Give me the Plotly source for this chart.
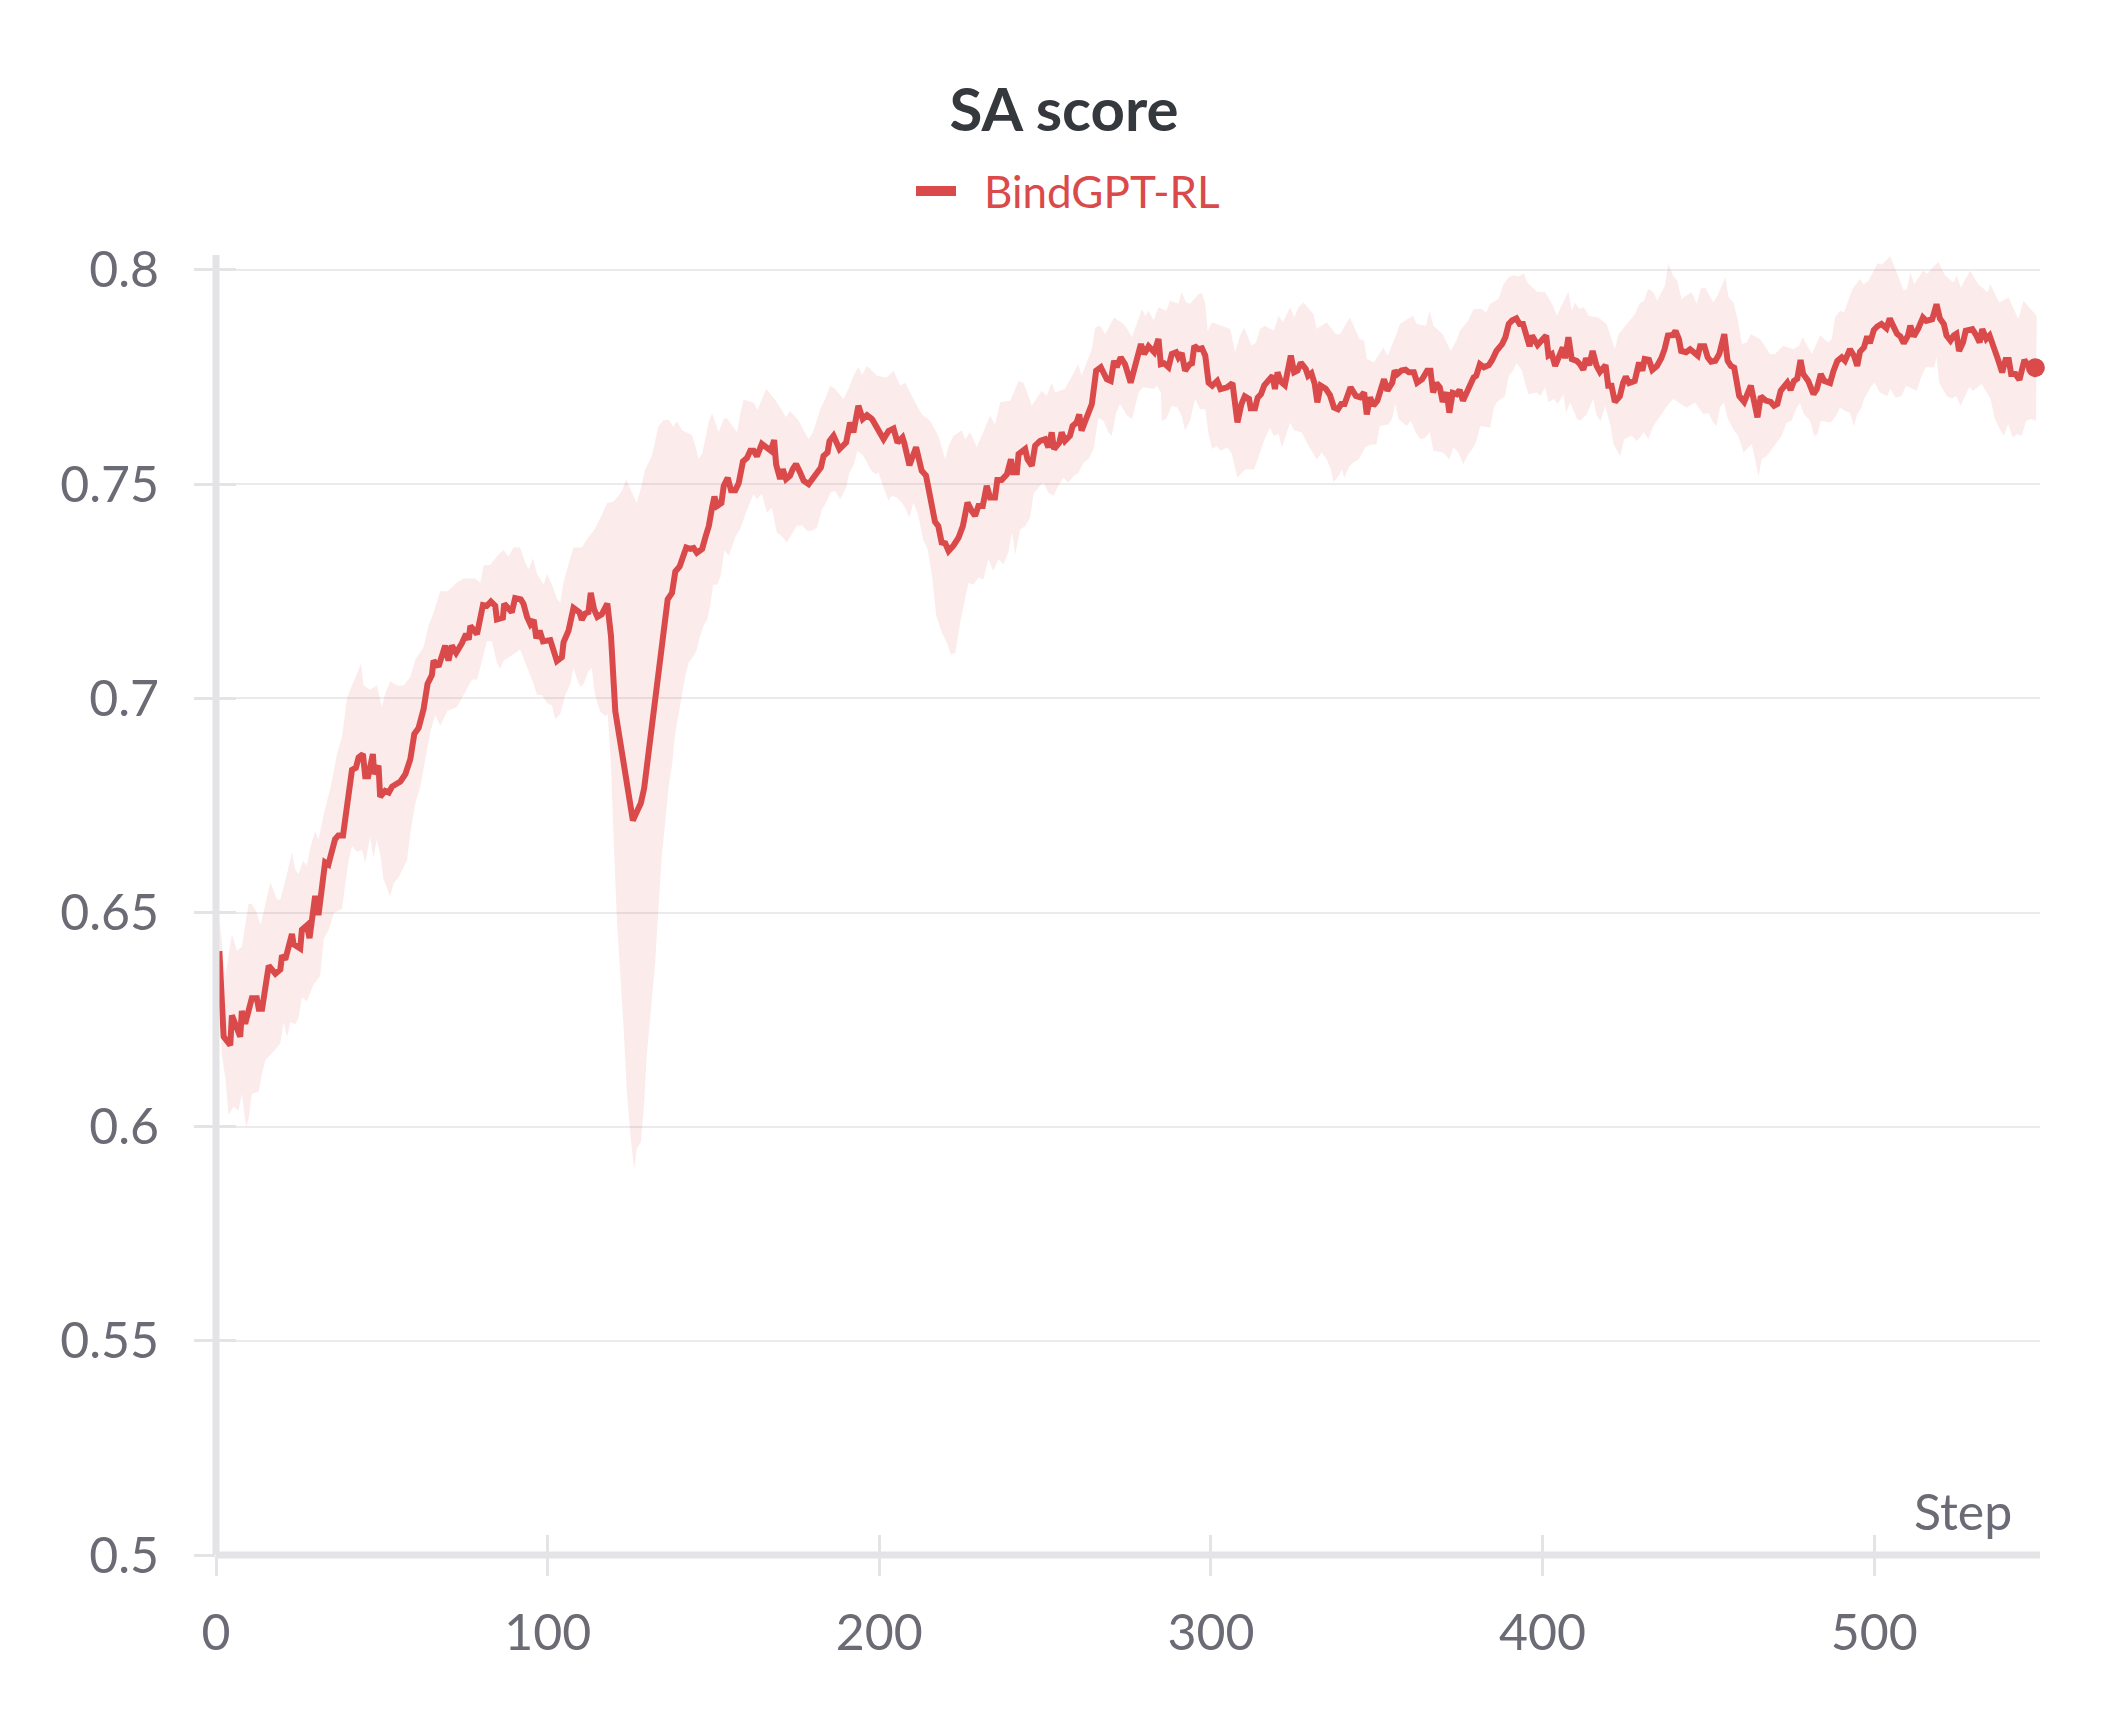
import plotly.graph_objects as go

# ---------------- data ----------------
title_text = "SA score"
series_name = "BindGPT-RL"
x_label = "Step"
x_tick_values = [0, 100, 200, 300, 400, 500]
x_tick_labels = ["0", "100", "200", "300", "400", "500"]
y_tick_values = [0.5, 0.55, 0.6, 0.65, 0.7, 0.75, 0.8]
y_tick_labels = ["0.5", "0.55", "0.6", "0.65", "0.7", "0.75", "0.8"]

mean_steps = [
    1.0, 2.3, 4.3, 4.8, 7.3, 7.8, 8.8, 10.8, 12.3, 12.9, 13.9, 15.9, 17.9, 19.4, 19.9, 20.9, 22.9, 23.4, 25.4, 25.9,
    27.4, 28.2, 29.9, 30.9, 32.9, 33.9, 35.9, 36.9, 38.3, 39.5, 41.0, 42.2, 43.0, 44.3, 45.0, 45.9, 47.3, 47.7, 49.0, 49.5,
    51.0, 52.1, 53.1, 55.6, 57.1, 58.6, 59.8, 61.1, 62.6, 63.8, 65.1, 65.6, 67.1, 69.1, 70.1, 71.1, 72.4, 74.1, 75.4, 76.2,
    76.7, 78.7, 80.5, 81.7, 82.9, 84.2, 84.7, 86.5, 86.9, 89.2, 90.2, 91.9, 92.7, 93.8, 94.8, 95.8, 96.6, 97.6, 98.6, 100.8,
    101.8, 102.8, 104.3, 104.8, 106.3, 107.8, 109.6, 110.3, 111.3, 112.3, 113.0, 114.0, 115.0, 116.3, 118.0, 119.1, 120.4, 121.9, 123.1, 124.4,
    125.7, 126.9, 128.1, 129.1, 130.3, 131.4, 132.7, 133.7, 134.8, 136.2, 137.5, 138.5, 139.8, 141.0, 141.8, 143.0, 144.0, 145.0, 146.6, 147.6,
    148.6, 149.6, 150.3, 151.1, 152.4, 153.1, 154.3, 155.3, 156.6, 157.6, 158.9, 160.1, 161.1, 162.1, 163.1, 164.6, 166.1, 167.3, 168.3, 168.9,
    170.1, 170.9, 171.9, 173.1, 173.9, 174.9, 175.9, 177.2, 178.7, 180.0, 181.2, 182.4, 183.2, 184.4, 185.0, 186.2, 188.0, 190.0, 191.2, 192.2,
    193.7, 195.0, 196.3, 197.8, 199.3, 201.3, 202.8, 204.3, 205.5, 207.0, 207.5, 209.1, 211.1, 212.8, 214.1, 215.5, 216.8, 217.8, 218.8, 219.9,
    220.9, 222.4, 223.9, 225.2, 226.6, 227.9, 228.9, 229.9, 231.2, 232.4, 233.4, 234.9, 235.6, 236.9, 238.5, 239.7, 240.3, 241.5, 242.0, 244.0,
    244.7, 246.0, 247.0, 248.5, 250.0, 251.0, 252.0, 252.7, 254.3, 255.0, 256.0, 257.5, 258.3, 259.5, 260.3, 261.0, 262.6, 264.1, 265.4, 266.8,
    268.6, 269.8, 270.8, 271.6, 272.8, 274.1, 275.8, 277.2, 278.9, 279.9, 281.2, 282.9, 284.2, 284.9, 285.9, 287.2, 288.2, 289.5, 290.2, 291.2,
    292.2, 293.6, 294.3, 295.0, 296.3, 297.3, 298.3, 299.3, 300.4, 301.9, 302.9, 304.9, 306.5, 308.0, 309.2, 310.2, 311.5, 312.0, 313.3, 314.1,
    315.1, 316.1, 317.3, 318.6, 319.3, 320.1, 321.1, 322.3, 324.1, 325.1, 326.1, 327.1, 328.6, 329.3, 330.3, 331.3, 332.1, 333.1, 334.6, 335.9,
    337.1, 338.3, 339.3, 340.3, 342.1, 343.7, 345.0, 346.2, 347.0, 348.0, 349.0, 350.2, 352.2, 353.2, 354.7, 355.4, 356.2, 357.4, 358.7, 359.7,
    361.2, 362.2, 363.7, 365.2, 366.2, 367.0, 368.0, 369.0, 369.9, 371.1, 371.9, 372.9, 374.1, 375.0, 376.0, 377.2, 378.2, 379.2, 380.0, 381.1,
    382.3, 383.8, 384.8, 386.1, 387.8, 388.8, 389.8, 390.8, 392.1, 393.1, 394.1, 395.1, 396.1, 396.8, 398.5, 400.1, 401.1, 401.8, 402.8, 403.8,
    405.1, 406.1, 406.8, 407.8, 408.8, 410.3, 411.3, 412.3, 413.1, 414.1, 415.1, 416.3, 417.3, 419.0, 419.8, 420.8, 421.8, 423.3, 424.3, 425.1,
    426.1, 427.8, 429.1, 430.1, 430.8, 432.1, 433.1, 434.5, 435.8, 436.8, 437.8, 439.3, 440.1, 441.1, 441.8, 443.3, 444.5, 445.8, 446.8, 447.5,
    448.8, 449.8, 450.8, 452.1, 453.3, 454.8, 455.8, 456.8, 457.8, 459.3, 460.8, 462.8, 463.8, 464.8, 465.8, 467.3, 468.8, 469.8, 470.8, 471.8,
    473.8, 474.8, 475.8, 476.8, 477.8, 478.6, 480.1, 481.7, 482.7, 483.9, 484.9, 486.7, 487.7, 488.9, 490.2, 491.2, 492.7, 493.9, 494.9, 495.7,
    496.9, 497.9, 498.7, 499.9, 500.9, 502.2, 503.7, 504.7, 505.7, 506.9, 507.9, 508.9, 510.2, 510.9, 511.9, 513.2, 514.7, 515.7, 517.5, 518.8,
    519.8, 521.0, 521.8, 523.0, 524.0, 524.8, 525.6, 526.8, 527.6, 529.6, 530.8, 531.8, 532.6, 533.8, 534.8, 536.0, 537.3, 538.6, 539.6, 540.6,
    541.3, 542.6, 543.8, 545.3, 546.3, 548.6,
]
mean_values = [
    0.641, 0.621, 0.619, 0.626, 0.621, 0.627, 0.624, 0.630, 0.630, 0.6275, 0.6275, 0.6376, 0.6357, 0.6367, 0.640, 0.639, 0.645, 0.6426, 0.6416, 0.646,
    0.647, 0.644, 0.6539, 0.6494, 0.6617, 0.6612, 0.6671, 0.668, 0.668, 0.6745, 0.6833, 0.6838, 0.6862, 0.687, 0.6818, 0.6818, 0.687, 0.6823, 0.6843, 0.677,
    0.6784, 0.678, 0.6794, 0.6806, 0.6823, 0.6858, 0.6917, 0.6931, 0.6975, 0.7034, 0.7054, 0.7088, 0.7074, 0.7123, 0.7088, 0.7123, 0.7106, 0.7128, 0.715, 0.7137,
    0.7169, 0.715, 0.7218, 0.7216, 0.7226, 0.7216, 0.7184, 0.7188, 0.7221, 0.7201, 0.7234, 0.7231, 0.7221, 0.719, 0.7173, 0.7183, 0.714, 0.7158, 0.7133, 0.7136,
    0.7108, 0.7087, 0.7096, 0.7131, 0.7158, 0.7211, 0.7201, 0.7183, 0.7198, 0.7201, 0.7246, 0.7208, 0.719, 0.7196, 0.7221, 0.7146, 0.697, 0.6895, 0.684, 0.676,
    0.6715, 0.6735, 0.6755, 0.679, 0.6865, 0.693, 0.6995, 0.7083, 0.7146, 0.7231, 0.7246, 0.7296, 0.7308, 0.7331, 0.7352, 0.7349, 0.7351, 0.734, 0.7349, 0.7377,
    0.7402, 0.7446, 0.7471, 0.7449, 0.7456, 0.7496, 0.7515, 0.7486, 0.7486, 0.7502, 0.7553, 0.7561, 0.7578, 0.7578, 0.7565, 0.7594, 0.7584, 0.7578, 0.7603, 0.7546,
    0.7512, 0.7535, 0.7512, 0.752, 0.7535, 0.7547, 0.7531, 0.7508, 0.75, 0.7515, 0.7531, 0.7539, 0.7566, 0.7574, 0.7601, 0.7613, 0.7582, 0.7597, 0.7644, 0.7621,
    0.7683, 0.7652, 0.7661, 0.7652, 0.7632, 0.7605, 0.7624, 0.763, 0.7597, 0.7609, 0.7597, 0.7544, 0.7586, 0.7531, 0.752, 0.7469, 0.7412, 0.7402, 0.7364, 0.7362,
    0.7344, 0.7357, 0.7375, 0.7402, 0.7457, 0.7437, 0.7426, 0.7449, 0.7449, 0.7496, 0.7469, 0.7469, 0.751, 0.751, 0.7523, 0.7558, 0.7528, 0.7528, 0.757, 0.7582,
    0.7558, 0.7543, 0.759, 0.7601, 0.7605, 0.7586, 0.7621, 0.7582, 0.7597, 0.7621, 0.7601, 0.7613, 0.7636, 0.7644, 0.7663, 0.7625, 0.766, 0.7687, 0.7765, 0.7773,
    0.7745, 0.7741, 0.7788, 0.7773, 0.7796, 0.778, 0.7737, 0.7784, 0.7827, 0.7804, 0.7822, 0.7808, 0.7839, 0.778, 0.7782, 0.7773, 0.7804, 0.7808, 0.7796, 0.7806,
    0.7765, 0.778, 0.7782, 0.7823, 0.7815, 0.7817, 0.78, 0.7737, 0.773, 0.7741, 0.7722, 0.7726, 0.7736, 0.7644, 0.7687, 0.7705, 0.7699, 0.7677, 0.7677, 0.7702,
    0.771, 0.7731, 0.7741, 0.7753, 0.7722, 0.7761, 0.7739, 0.7731, 0.78, 0.7761, 0.7765, 0.7784, 0.7769, 0.7753, 0.7759, 0.7734, 0.7691, 0.773, 0.7723, 0.7708,
    0.7679, 0.7675, 0.7687, 0.7687, 0.7726, 0.7706, 0.7703, 0.7714, 0.7663, 0.7703, 0.7683, 0.7695, 0.7745, 0.7718, 0.7737, 0.7765, 0.7757, 0.7765, 0.7767, 0.7761,
    0.7761, 0.7737, 0.7745, 0.7765, 0.7765, 0.7714, 0.7736, 0.7726, 0.7692, 0.7714, 0.7667, 0.7713, 0.771, 0.772, 0.7695, 0.7714, 0.7737, 0.7749, 0.7753, 0.778,
    0.7773, 0.7778, 0.779, 0.7811, 0.7827, 0.7843, 0.7874, 0.7882, 0.7887, 0.7874, 0.7874, 0.7847, 0.7822, 0.7847, 0.7825, 0.7839, 0.7847, 0.78, 0.7804, 0.7776,
    0.78, 0.7819, 0.7794, 0.7843, 0.7792, 0.7788, 0.778, 0.7767, 0.7794, 0.7778, 0.7811, 0.7776, 0.7762, 0.7778, 0.773, 0.773, 0.7692, 0.7705, 0.7737, 0.7751,
    0.7736, 0.7741, 0.7784, 0.7765, 0.7792, 0.779, 0.7767, 0.7776, 0.7794, 0.7815, 0.7847, 0.7848, 0.7858, 0.7839, 0.7811, 0.7808, 0.7815, 0.7808, 0.78, 0.7822,
    0.7822, 0.7796, 0.7786, 0.7788, 0.7804, 0.785, 0.7788, 0.7776, 0.7772, 0.7706, 0.7692, 0.773, 0.7691, 0.7656, 0.7705, 0.7695, 0.7692, 0.7683, 0.7687, 0.7718,
    0.7737, 0.772, 0.7741, 0.7746, 0.779, 0.7757, 0.7741, 0.771, 0.7722, 0.7757, 0.7741, 0.7736, 0.7764, 0.7788, 0.7796, 0.7788, 0.7815, 0.78, 0.7776, 0.7809,
    0.7819, 0.7845, 0.7829, 0.786, 0.7868, 0.7874, 0.7864, 0.7887, 0.787, 0.7851, 0.7845, 0.7829, 0.7847, 0.787, 0.7845, 0.7862, 0.7889, 0.7881, 0.7885, 0.792,
    0.7887, 0.7874, 0.7847, 0.7835, 0.7847, 0.7851, 0.7811, 0.7831, 0.7858, 0.7862, 0.7847, 0.7831, 0.7862, 0.7839, 0.7847, 0.7815, 0.7792, 0.7761, 0.779, 0.779,
    0.7757, 0.7757, 0.7744, 0.779, 0.7778, 0.7772,
]

upper_steps = [
    1.0, 2.8, 4.8, 6.3, 7.8, 9.8, 10.8, 12.3, 13.4, 15.4, 16.4, 18.4, 19.4, 21.4, 22.9, 23.9, 24.9, 26.2, 27.4, 28.4,
    29.9, 30.9, 32.5, 34.5, 36.5, 38.0, 39.5, 41.0, 42.5, 43.7, 44.5, 46.5, 48.5, 50.0, 51.0, 52.5, 54.6, 56.6, 58.6, 60.1,
    62.6, 64.1, 65.6, 67.6, 69.8, 72.6, 74.6, 76.7, 78.2, 79.7, 80.7, 82.7, 85.2, 86.7, 88.2, 89.7, 91.7, 93.3, 94.3, 95.6,
    96.8, 98.8, 99.8, 101.3, 102.8, 103.8, 104.8, 106.8, 107.8, 110.3, 111.8, 114.3, 116.3, 117.9, 119.9, 122.4, 123.7, 125.9, 126.9, 127.9,
    129.4, 131.4, 132.4, 133.4, 134.9, 136.5, 137.8, 139.0, 140.5, 143.5, 144.5, 145.5, 146.6, 148.6, 149.6, 151.6, 153.1, 154.1, 157.1, 158.1,
    159.1, 162.1, 163.3, 165.9, 168.6, 170.6, 171.9, 173.1, 175.7, 177.2, 178.7, 180.0, 182.2, 183.7, 185.2, 186.7, 189.2, 190.7, 192.2, 193.7,
    194.8, 196.3, 199.3, 202.3, 204.3, 206.3, 207.8, 210.3, 212.8, 215.3, 217.8, 219.9, 220.9, 222.4, 224.9, 225.9, 227.4, 229.4, 232.4, 233.4,
    234.9, 236.5, 239.5, 242.0, 243.5, 246.0, 249.0, 250.5, 252.0, 253.0, 256.0, 257.5, 260.0, 261.0, 264.1, 265.1, 266.6, 268.1, 270.8, 273.6,
    274.8, 276.2, 279.2, 280.2, 281.2, 282.7, 284.2, 286.5, 287.7, 290.2, 291.2, 292.5, 293.7, 296.3, 297.3, 298.3, 299.0, 300.4, 302.9, 305.8,
    307.3, 308.8, 310.0, 312.3, 313.6, 314.8, 316.3, 319.0, 320.4, 321.7, 323.9, 325.1, 326.4, 327.9, 330.9, 331.9, 334.9, 337.7, 338.9, 341.9,
    344.8, 346.2, 347.0, 349.2, 352.0, 353.3, 355.8, 357.0, 358.6, 360.9, 362.1, 364.9, 365.9, 367.1, 369.9, 372.3, 374.0, 375.1, 377.6, 379.2,
    381.7, 383.0, 384.2, 386.7, 388.2, 389.8, 391.3, 392.8, 394.3, 395.4, 398.3, 400.8, 403.1, 404.3, 405.5, 407.8, 408.8, 409.8, 411.1, 412.5,
    413.8, 416.8, 419.3, 420.8, 421.8, 422.9, 425.6, 427.9, 429.2, 430.6, 431.9, 433.4, 434.6, 436.9, 437.9, 439.4, 440.6, 441.9, 444.9, 446.5,
    447.7, 449.0, 451.5, 453.0, 455.1, 456.1, 457.6, 458.8, 460.1, 461.6, 462.8, 465.6, 468.6, 470.1, 472.6, 475.6, 477.4, 478.4, 481.2, 483.7,
    486.2, 487.2, 488.2, 489.7, 490.9, 492.2, 493.5, 495.7, 496.8, 498.3, 501.0, 502.3, 504.8, 506.4, 508.9, 509.9, 510.9, 512.1, 514.7, 516.1,
    518.1, 519.4, 521.4, 523.9, 524.9, 526.1, 528.9, 531.4, 534.2, 535.0, 537.7, 540.5, 543.5, 545.0, 548.0, 549.0,
]
upper_values = [
    0.649, 0.635, 0.645, 0.641, 0.642, 0.652, 0.652, 0.650, 0.647, 0.654, 0.657, 0.653, 0.653, 0.659, 0.664, 0.660, 0.659, 0.662, 0.661, 0.665,
    0.669, 0.667, 0.673, 0.679, 0.687, 0.691, 0.700, 0.703, 0.706, 0.708, 0.703, 0.702, 0.703, 0.698, 0.701, 0.704, 0.703, 0.703, 0.705, 0.709,
    0.712, 0.717, 0.720, 0.725, 0.725, 0.727, 0.728, 0.728, 0.728, 0.727, 0.731, 0.7312, 0.7336, 0.7346, 0.7331, 0.7352, 0.7352, 0.7315, 0.7302, 0.7327,
    0.729, 0.7265, 0.729, 0.7265, 0.7233, 0.7223, 0.7271, 0.7327, 0.7352, 0.7352, 0.7371, 0.7396, 0.7427, 0.7456, 0.7459, 0.7484, 0.7511, 0.7471, 0.7456, 0.7484,
    0.7534, 0.7565, 0.7596, 0.7634, 0.7649, 0.7651, 0.7634, 0.7646, 0.7626, 0.7615, 0.759, 0.7559, 0.7571, 0.7646, 0.7665, 0.7621, 0.7653, 0.7653, 0.7621, 0.7665,
    0.7697, 0.769, 0.7674, 0.7722, 0.7697, 0.7671, 0.7656, 0.7671, 0.7648, 0.7625, 0.7605, 0.7621, 0.7675, 0.7699, 0.773, 0.7722, 0.7699, 0.7722, 0.7753, 0.7773,
    0.7755, 0.7776, 0.7753, 0.7749, 0.7765, 0.773, 0.7737, 0.7699, 0.7663, 0.7648, 0.7613, 0.7558, 0.7589, 0.7613, 0.7625, 0.7605, 0.7621, 0.7586, 0.7644, 0.766,
    0.764, 0.7691, 0.7695, 0.7741, 0.7737, 0.7683, 0.7718, 0.7706, 0.7737, 0.7714, 0.7722, 0.7745, 0.778, 0.7753, 0.7815, 0.7866, 0.787, 0.785, 0.7889, 0.7874,
    0.7862, 0.7843, 0.7909, 0.7893, 0.7905, 0.7882, 0.7913, 0.7905, 0.7928, 0.7921, 0.7948, 0.7924, 0.7921, 0.7944, 0.7946, 0.7921, 0.7858, 0.7878, 0.787, 0.7862,
    0.7808, 0.7847, 0.7866, 0.7823, 0.7831, 0.7862, 0.787, 0.7858, 0.7893, 0.7878, 0.7913, 0.7889, 0.7913, 0.7924, 0.7897, 0.7862, 0.7878, 0.785, 0.785, 0.7889,
    0.7839, 0.7835, 0.7792, 0.7784, 0.7819, 0.78, 0.7847, 0.7874, 0.7882, 0.7893, 0.7874, 0.787, 0.7905, 0.787, 0.785, 0.7811, 0.7835, 0.7858, 0.7882, 0.7909,
    0.7909, 0.79, 0.7921, 0.7932, 0.7967, 0.7983, 0.7988, 0.7985, 0.7992, 0.7971, 0.7949, 0.7948, 0.7917, 0.7893, 0.7913, 0.7949, 0.7905, 0.7924, 0.7909, 0.7913,
    0.7893, 0.7889, 0.7874, 0.7839, 0.7815, 0.785, 0.7874, 0.7897, 0.7921, 0.7928, 0.7956, 0.7948, 0.7928, 0.7963, 0.8014, 0.7987, 0.7975, 0.7932, 0.7948, 0.7921,
    0.7956, 0.7959, 0.7924, 0.7944, 0.7983, 0.7936, 0.7924, 0.7885, 0.7827, 0.7831, 0.785, 0.7839, 0.7804, 0.7804, 0.7823, 0.7815, 0.7823, 0.7843, 0.7804, 0.7847,
    0.7831, 0.7839, 0.7889, 0.7905, 0.7901, 0.7928, 0.7956, 0.7979, 0.7967, 0.7975, 0.8016, 0.8012, 0.8032, 0.8002, 0.7952, 0.7956, 0.7995, 0.7967, 0.7998, 0.7991,
    0.801, 0.8018, 0.7987, 0.7971, 0.7987, 0.7959, 0.7998, 0.7967, 0.7948, 0.7967, 0.7924, 0.7936, 0.7885, 0.7928, 0.7901, 0.7893,
]

lower_steps = [
    1.0, 1.8, 2.8, 3.8, 5.3, 6.8, 7.8, 9.1, 9.8, 10.8, 12.9, 13.9, 14.9, 17.9, 19.4, 20.4, 21.4, 22.4, 23.9, 24.9,
    25.9, 27.4, 29.4, 31.4, 32.5, 34.0, 35.5, 38.0, 39.0, 40.0, 41.0, 42.5, 44.0, 45.0, 46.5, 47.5, 48.5, 49.5, 50.5, 52.5,
    53.6, 55.1, 57.6, 58.6, 60.1, 61.6, 63.1, 64.6, 66.1, 67.6, 69.8, 72.6, 74.1, 75.6, 77.2, 78.7, 80.2, 81.7, 83.2, 84.7,
    85.7, 86.7, 89.7, 91.7, 94.3, 95.8, 96.8, 98.3, 99.8, 101.3, 102.3, 103.8, 105.3, 106.8, 107.8, 108.8, 109.8, 110.8, 112.3, 113.3,
    114.3, 115.8, 117.4, 118.1, 119.1, 119.9, 120.9, 121.9, 122.9, 123.9, 125.1, 126.1, 126.9, 128.1, 129.1, 129.9, 131.1, 132.4, 133.4, 134.4,
    135.4, 136.5, 137.5, 138.5, 139.5, 140.5, 141.5, 142.5, 144.0, 145.0, 146.0, 147.1, 148.1, 149.1, 149.9, 151.1, 152.1, 153.3, 154.6, 156.6,
    158.1, 160.1, 162.1, 163.1, 164.6, 166.1, 167.6, 169.1, 170.6, 172.1, 173.6, 175.1, 176.7, 178.2, 179.7, 181.2, 182.7, 184.0, 185.2, 186.7,
    188.2, 190.0, 191.0, 192.2, 193.4, 194.8, 196.1, 197.3, 198.8, 199.8, 201.3, 202.8, 203.8, 205.3, 206.8, 207.8, 209.1, 210.3, 211.8, 213.2,
    214.6, 215.9, 217.2, 218.9, 220.4, 221.6, 222.9, 224.4, 225.6, 226.9, 228.4, 229.9, 231.4, 232.9, 234.4, 235.9, 237.5, 239.0, 240.0, 241.0,
    242.5, 244.0, 245.5, 246.5, 248.0, 249.5, 251.0, 252.5, 254.0, 255.5, 257.0, 258.6, 260.1, 261.6, 263.1, 264.6, 266.1, 267.6, 269.1, 270.1,
    271.4, 272.6, 274.8, 276.2, 277.2, 278.2, 279.5, 282.7, 283.7, 284.9, 285.2, 286.5, 288.2, 289.9, 291.2, 292.2, 293.7, 295.2, 296.8, 298.3,
    299.3, 300.4, 301.7, 303.0, 305.0, 306.3, 308.0, 310.3, 313.0, 314.3, 315.8, 317.8, 319.0, 320.4, 321.4, 322.9, 323.9, 325.1, 327.4, 328.9,
    330.4, 331.9, 333.4, 334.9, 336.0, 337.0, 338.5, 339.5, 340.2, 341.5, 343.0, 344.6, 346.6, 348.1, 349.9, 350.9, 353.6, 354.6, 355.6, 356.6,
    359.0, 360.3, 361.7, 363.2, 364.7, 366.0, 367.1, 370.0, 371.9, 373.1, 374.6, 376.1, 377.6, 379.2, 380.2, 381.2, 384.2, 385.2, 386.2, 388.7,
    389.8, 391.1, 392.1, 393.8, 394.8, 395.8, 398.3, 399.3, 400.8, 401.8, 403.4, 404.6, 406.3, 407.1, 408.3, 410.4, 411.4, 413.3, 415.3, 416.3,
    417.5, 418.9, 420.4, 421.4, 423.4, 424.6, 426.9, 428.4, 430.6, 431.9, 433.4, 436.3, 438.0, 439.4, 440.9, 443.4, 446.0, 448.5, 450.0, 451.3,
    452.5, 453.5, 454.7, 455.7, 457.5, 459.0, 460.6, 462.1, 463.1, 464.1, 465.1, 466.1, 467.6, 470.6, 472.1, 473.6, 475.1, 476.4, 477.6, 478.8,
    480.7, 481.9, 482.9, 483.9, 486.9, 488.5, 489.7, 491.2, 492.7, 493.9, 494.9, 496.2, 496.9, 499.2, 500.2, 501.7, 503.9, 504.9, 506.5, 508.2,
    509.6, 510.9, 512.8, 514.3, 515.6, 518.1, 518.8, 519.6, 521.9, 523.4, 524.7, 526.1, 527.4, 528.7, 529.9, 532.4, 533.7, 535.1, 536.4, 537.9,
    539.1, 540.4, 541.8, 543.0, 544.5, 545.8, 547.2, 548.8,
]
lower_values = [
    0.628, 0.6165, 0.6116, 0.6028, 0.6047, 0.6038, 0.6077, 0.5998, 0.6018, 0.6077, 0.6082, 0.6126, 0.6155, 0.618, 0.6195, 0.6244, 0.6209, 0.6244, 0.6239, 0.6254,
    0.6303, 0.6293, 0.6332, 0.6352, 0.644, 0.646, 0.6499, 0.6509, 0.6568, 0.6622, 0.6656, 0.6642, 0.6646, 0.6617, 0.6676, 0.6627, 0.6671, 0.6637, 0.6578, 0.6538,
    0.6568, 0.6583, 0.6622, 0.6686, 0.6755, 0.6794, 0.6853, 0.6921, 0.6961, 0.6936, 0.6971, 0.698, 0.7, 0.702, 0.7044, 0.7044, 0.7088, 0.7133, 0.7133, 0.7083,
    0.7069, 0.7088, 0.7103, 0.7114, 0.7064, 0.7033, 0.7008, 0.7008, 0.6989, 0.6983, 0.6952, 0.6964, 0.7008, 0.7033, 0.7071, 0.7046, 0.7027, 0.7033, 0.7064, 0.7071,
    0.7008, 0.697, 0.6958, 0.6964, 0.6845, 0.667, 0.6482, 0.6357, 0.6232, 0.6081, 0.5969, 0.59, 0.595, 0.5963, 0.6056, 0.6169, 0.6269, 0.6382, 0.6507, 0.6632,
    0.6708, 0.6795, 0.6845, 0.692, 0.697, 0.7008, 0.7052, 0.7083, 0.7098, 0.7114, 0.7146, 0.7171, 0.7183, 0.7221, 0.7265, 0.7265, 0.7283, 0.7346, 0.7333, 0.7377,
    0.7396, 0.744, 0.7477, 0.7465, 0.7477, 0.7434, 0.7445, 0.7387, 0.7379, 0.7364, 0.7383, 0.7403, 0.7404, 0.7391, 0.7391, 0.7399, 0.7441, 0.7457, 0.748, 0.7484,
    0.7465, 0.7492, 0.7527, 0.7543, 0.7578, 0.757, 0.7554, 0.7535, 0.7523, 0.7527, 0.7492, 0.7461, 0.7473, 0.7469, 0.7457, 0.7445, 0.7422, 0.7457, 0.7426, 0.7371,
    0.7348, 0.7286, 0.7192, 0.7153, 0.713, 0.7103, 0.7106, 0.7177, 0.7223, 0.727, 0.7266, 0.7282, 0.7278, 0.7325, 0.7297, 0.7325, 0.7313, 0.7344, 0.7387, 0.7336,
    0.7395, 0.7402, 0.7422, 0.7477, 0.7492, 0.7504, 0.748, 0.7473, 0.7496, 0.7515, 0.7504, 0.7519, 0.7527, 0.7551, 0.7558, 0.7582, 0.7655, 0.7648, 0.7621, 0.7613,
    0.7667, 0.7687, 0.766, 0.7652, 0.7679, 0.7714, 0.7726, 0.7722, 0.773, 0.7714, 0.7648, 0.7652, 0.7683, 0.7679, 0.766, 0.7625, 0.7648, 0.7699, 0.7675, 0.7675,
    0.7617, 0.7582, 0.7589, 0.7578, 0.7586, 0.757, 0.7515, 0.7535, 0.7535, 0.7562, 0.7597, 0.7632, 0.7613, 0.7617, 0.7586, 0.7621, 0.7644, 0.7625, 0.7621, 0.7597,
    0.7578, 0.7558, 0.7574, 0.7558, 0.7539, 0.7505, 0.7519, 0.7535, 0.7515, 0.7539, 0.7551, 0.7558, 0.7586, 0.7592, 0.7593, 0.7636, 0.764, 0.7652, 0.7687, 0.7652,
    0.7636, 0.7648, 0.7621, 0.7605, 0.7609, 0.7621, 0.7578, 0.7574, 0.7558, 0.7586, 0.7574, 0.7547, 0.757, 0.7586, 0.7605, 0.7636, 0.7632, 0.7675, 0.7691, 0.7706,
    0.7753, 0.7765, 0.7783, 0.7765, 0.7734, 0.771, 0.7714, 0.7706, 0.7726, 0.7691, 0.7699, 0.7687, 0.771, 0.7667, 0.7691, 0.7652, 0.7648, 0.7663, 0.7699, 0.766,
    0.7648, 0.7683, 0.764, 0.7593, 0.7566, 0.7605, 0.7613, 0.7601, 0.7621, 0.7605, 0.7636, 0.7667, 0.7687, 0.7699, 0.7691, 0.7679, 0.7691, 0.7663, 0.7667, 0.7646,
    0.7636, 0.7679, 0.7691, 0.7656, 0.7628, 0.7613, 0.7574, 0.7586, 0.7593, 0.7558, 0.7519, 0.7558, 0.7566, 0.7597, 0.7613, 0.7644, 0.7648, 0.7675, 0.769, 0.7663,
    0.7648, 0.7613, 0.7617, 0.7648, 0.7644, 0.766, 0.7679, 0.7671, 0.7667, 0.7636, 0.7663, 0.7679, 0.7699, 0.773, 0.7737, 0.7714, 0.7706, 0.7722, 0.7702, 0.7706,
    0.773, 0.7726, 0.7718, 0.7753, 0.7773, 0.7773, 0.7796, 0.7737, 0.7706, 0.77, 0.7706, 0.7683, 0.7706, 0.7726, 0.7718, 0.7734, 0.7718, 0.7699, 0.7652, 0.7628,
    0.7613, 0.764, 0.7609, 0.7617, 0.7613, 0.7648, 0.7652, 0.7648,
]

# ---------------- style ----------------
FONT = "Lato, 'Noto Sans', sans-serif"
RED = "#da4a4a"
BAND = "rgba(218,74,74,0.11)"
AXIS = "#e4e4e7"
GRID = "#ebebed"
TICKTXT = "#6b6b76"
X_RANGE = [0, 550]
Y_RANGE = [0.5, 0.8035]
W, H = 2120, 1720  # the page body adds an 8px offset in the 2128x1728 window
ML, MR, MT, MB = 208, 88, 247, 173
PW, PH = W - ML - MR, H - MT - MB


def px_to_paper_x(px):
    return (px - ML) / PW


def px_to_paper_y(py):
    return (H - MB - py) / PH


fig = go.Figure()

# shaded band (upper edge then lower edge reversed, closed polygon)
fig.add_trace(go.Scatter(
    x=upper_steps + lower_steps[::-1],
    y=upper_values + lower_values[::-1],
    fill="toself", fillcolor=BAND, line=dict(width=0, color=BAND),
    mode="lines", showlegend=False, hoverinfo="skip",
))
# mean line
fig.add_trace(go.Scatter(
    x=mean_steps, y=mean_values, mode="lines", name=series_name,
    line=dict(color=RED, width=6), showlegend=False,
))
# end-point marker
fig.add_trace(go.Scatter(
    x=[mean_steps[-1]], y=[mean_values[-1]], mode="markers",
    marker=dict(color=RED, size=19), showlegend=False, cliponaxis=False,
))
# carrier for the inside half of the ticks
fig.add_trace(go.Scatter(x=[None], y=[None], xaxis="x2", yaxis="y2",
                         showlegend=False, hoverinfo="skip"))

tickfont = dict(family=FONT, size=50, color=TICKTXT)
legend_y = px_to_paper_y(183)

fig.update_layout(
    width=W, height=H,
    paper_bgcolor="white", plot_bgcolor="white",
    margin=dict(l=ML, r=MR, t=MT, b=MB),
    font=dict(family=FONT),
    showlegend=False,
    title=dict(text=title_text, x=1056 / W, xref="container", xanchor="center",
               y=1 - 102 / H, yref="container", yanchor="middle",
               font=dict(family=FONT, size=60, color="#35393e", weight=700)),
    xaxis=dict(range=X_RANGE, tickvals=x_tick_values, ticktext=x_tick_labels,
               showgrid=False, zeroline=False, showline=False,
               ticks="outside", ticklen=20, tickwidth=3, tickcolor=AXIS,
               tickfont=tickfont, ticklabelstandoff=14),
    yaxis=dict(range=Y_RANGE, tickvals=y_tick_values, ticktext=y_tick_labels,
               showgrid=True, gridcolor=GRID, gridwidth=2, zeroline=False, showline=False,
               ticks="outside", ticklen=21, tickwidth=3, tickcolor=AXIS,
               tickfont=tickfont, ticklabelstandoff=25),
    xaxis2=dict(range=X_RANGE, overlaying="x", anchor="y2", tickvals=x_tick_values,
                showticklabels=False, showgrid=False, zeroline=False, showline=False,
                ticks="inside", ticklen=20, tickwidth=3, tickcolor=AXIS),
    yaxis2=dict(range=Y_RANGE, overlaying="y", anchor="x2", side="left", tickvals=y_tick_values,
                showticklabels=False, showgrid=False, zeroline=False, showline=False,
                ticks="inside", ticklen=20, tickwidth=3, tickcolor=AXIS),
    shapes=[
        # axis lines
        dict(type="line", xref="paper", yref="paper", x0=0, x1=0, y0=0, y1=1,
             line=dict(color=AXIS, width=7), layer="above"),
        dict(type="line", xref="paper", yref="paper", x0=0, x1=1, y0=0, y1=0,
             line=dict(color=AXIS, width=7), layer="above"),
        # legend swatch
        dict(type="line", xref="paper", yref="paper",
             x0=px_to_paper_x(908), x1=px_to_paper_x(948), y0=legend_y, y1=legend_y,
             line=dict(color=RED, width=10)),
    ],
    annotations=[
        # legend label
        dict(text=series_name, xref="paper", yref="paper", x=px_to_paper_x(974), y=legend_y,
             xanchor="left", yanchor="middle", showarrow=False,
             font=dict(family=FONT, size=44, color=RED)),
        # x-axis title
        dict(text=x_label, xref="paper", yref="paper", x=(2014 - 216) / 1824, y=0.034,
             xanchor="right", yanchor="middle", showarrow=False,
             font=dict(family=FONT, size=50, color=TICKTXT)),
    ],
)

fig.write_html("out.html")
